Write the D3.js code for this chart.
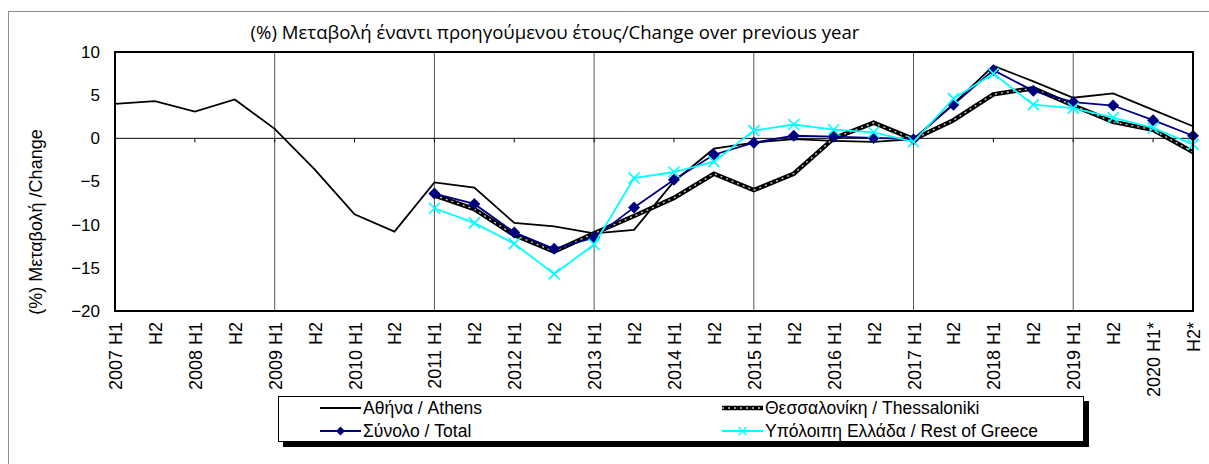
<!DOCTYPE html>
<html lang="el">
<head>
<meta charset="UTF-8">
<title>Μεταβολή έναντι προηγούμενου έτους</title>
<script src="https://d3js.org/d3.v7.min.js"></script>
<style>
  body { margin: 0; background: #fff; }
  svg text { font-family: "Liberation Sans", Arial, sans-serif; fill: #000; }
  .title { font-family: "Open Sans", "Noto Sans", sans-serif; font-size: 18.6px; }
  .ylab { font-size: 18px; }
  .yaxis text { font-size: 17px; }
  .xaxis text { font-size: 18px; }
  .legend text { font-size: 17.5px; }
</style>
</head>
<body>
<div id="chart"></div>
<script>
// half-year periods, tick labels as printed
const periods = ["2007 H1", "H2", "2008 H1", "H2", "2009 H1", "H2", "2010 H1", "H2",
  "2011 H1", "H2", "2012 H1", "H2", "2013 H1", "H2", "2014 H1", "H2",
  "2015 H1", "H2", "2016 H1", "H2", "2017 H1", "H2", "2018 H1", "H2",
  "2019 H1", "H2", "2020 H1*", "H2*"];

const athens = [4.0, 4.3, 3.1, 4.5, 1.1, -3.6, -8.8, -10.8,
  -5.1, -5.7, -9.8, -10.2, -11.0, -10.6, -5.0, -1.2,
  -0.5, -0.1, -0.3, -0.4, -0.1, 4.0, 8.4, 6.6,
  4.7, 5.2, 3.3, 1.4];
const thessaloniki = [null, null, null, null, null, null, null, null,
  -6.6, -8.2, -11.2, -13.1, -11.0, -9.0, -6.9, -4.1,
  -6.0, -4.1, 0.0, 1.8, -0.1, 2.1, 5.1, 5.8,
  3.8, 1.9, 1.0, -1.6];
const total = [null, null, null, null, null, null, null, null,
  -6.4, -7.6, -10.9, -12.8, -11.5, -8.0, -4.8, -1.9,
  -0.5, 0.3, 0.2, 0.05, -0.1, 3.9, 7.9, 5.5,
  4.2, 3.8, 2.1, 0.3];
const restOfGreece = [null, null, null, null, null, null, null, null,
  -8.1, -9.8, -12.2, -15.7, -12.3, -4.6, -3.9, -2.7,
  0.9, 1.6, 1.0, 0.7, -0.4, 4.6, 7.5, 3.9,
  3.5, 2.4, 1.2, -0.7];

const yTicks = [10, 5, 0, -5, -10, -15, -20];

const series = [
  {name: "Αθήνα / Athens", values: athens, type: "athens"},
  {name: "Θεσσαλονίκη / Thessaloniki", values: thessaloniki, type: "thess"},
  {name: "Σύνολο / Total", values: total, type: "total"},
  {name: "Υπόλοιπη Ελλάδα / Rest of Greece", values: restOfGreece, type: "rest"}
];

const width = 1209, height = 464;
const plot = {left: 115, right: 1193, top: 52, bottom: 311};

const svg = d3.select("#chart").append("svg")
    .attr("width", width)
    .attr("height", height);

// outer chart frame
svg.append("rect")
    .attr("x", 8.5).attr("y", 11.5)
    .attr("width", 1300).attr("height", 500)
    .attr("fill", "none")
    .attr("stroke", "#8c8c8c");

const x = d3.scalePoint()
    .domain(d3.range(periods.length))
    .range([plot.left, plot.right]);

const y = d3.scaleLinear()
    .domain([-20, 10])
    .range([plot.bottom, plot.top]);

// vertical gridlines every two years
svg.append("g")
  .selectAll("line")
  .data(x.domain().filter(i => i % 4 === 0 && i > 0))
  .enter().append("line")
    .attr("x1", d => x(d)).attr("x2", d => x(d))
    .attr("y1", plot.top).attr("y2", plot.bottom)
    .attr("stroke", "#555")
    .attr("stroke-width", 1);

// zero line with small ticks
svg.append("line")
    .attr("x1", plot.left).attr("x2", plot.right)
    .attr("y1", y(0)).attr("y2", y(0))
    .attr("stroke", "#000");

svg.append("g")
  .selectAll("line")
  .data(x.domain().filter(i => i % 2 === 0))
  .enter().append("line")
    .attr("x1", d => x(d)).attr("x2", d => x(d))
    .attr("y1", y(0)).attr("y2", y(0) + 4)
    .attr("stroke", "#000");

// axes
const yAxis = svg.append("g")
    .attr("class", "yaxis")
    .attr("transform", `translate(${plot.left},0)`)
    .call(d3.axisLeft(y).tickValues(yTicks).tickSize(0).tickPadding(15));
yAxis.select(".domain").remove();

const xAxis = svg.append("g")
    .attr("class", "xaxis")
    .attr("transform", `translate(0,${plot.bottom})`)
    .call(d3.axisBottom(x).tickFormat(i => periods[i]).tickSize(0));
xAxis.select(".domain").remove();
xAxis.selectAll("text")
    .attr("transform", "rotate(-90)")
    .attr("x", -11)
    .attr("y", 0)
    .attr("dy", "0.36em")
    .attr("text-anchor", "end");
svg.selectAll(".yaxis, .xaxis").attr("font-family", null).attr("font-size", null);

// lines
const line = d3.line()
    .defined(d => d.v != null)
    .x(d => x(d.i))
    .y(d => y(d.v));

const pts = s => s.values.map((v, i) => ({i: i, v: v}));

const drawSeries = (g, s) => {
  const data = pts(s);
  if (s.type === "athens") {
    g.append("path").datum(data).attr("d", line)
        .attr("fill", "none").attr("stroke", "#000").attr("stroke-width", 1.8);
  } else if (s.type === "thess") {
    g.append("path").datum(data).attr("d", line)
        .attr("fill", "none").attr("stroke", "#000").attr("stroke-width", 4.5);
    g.append("path").datum(data).attr("d", line)
        .attr("fill", "none").attr("stroke", "#c8c8c8").attr("stroke-width", 1.4)
        .attr("stroke-dasharray", "2,4");
  } else if (s.type === "total") {
    g.append("path").datum(data).attr("d", line)
        .attr("fill", "none").attr("stroke", "#000080").attr("stroke-width", 1.8);
    g.selectAll("path.mk").data(data.filter(d => d.v != null))
      .enter().append("path").attr("class", "mk")
        .attr("d", "M0,-6L6,0L0,6L-6,0Z")
        .attr("transform", d => `translate(${x(d.i)},${y(d.v)})`)
        .attr("fill", "#000080");
  } else {
    g.append("path").datum(data).attr("d", line)
        .attr("fill", "none").attr("stroke", "#00ffff").attr("stroke-width", 1.8);
    g.selectAll("path.mk").data(data.filter(d => d.v != null))
      .enter().append("path").attr("class", "mk")
        .attr("d", "M-5.5,-5.5L5.5,5.5M-5.5,5.5L5.5,-5.5")
        .attr("transform", d => `translate(${x(d.i)},${y(d.v)})`)
        .attr("stroke", "#00ffff").attr("stroke-width", 1.6);
  }
};

series.forEach(s => drawSeries(svg.append("g"), s));

// plot border
svg.append("rect")
    .attr("x", plot.left).attr("y", plot.top)
    .attr("width", plot.right - plot.left)
    .attr("height", plot.bottom - plot.top)
    .attr("fill", "none")
    .attr("stroke", "#000")
    .attr("stroke-width", 2);

// title and y label
svg.append("text")
    .attr("class", "title")
    .attr("x", 555).attr("y", 39)
    .attr("text-anchor", "middle")
    .text("(%) Μεταβολή έναντι προηγούμενου έτους/Change over previous year");

svg.append("text")
    .attr("class", "ylab")
    .attr("transform", "translate(36,222) rotate(-90)")
    .attr("text-anchor", "middle")
    .attr("dy", "0.35em")
    .text("(%) Μεταβολή /Change");

// legend
const legend = svg.append("g").attr("class", "legend");
legend.append("rect")
    .attr("x", 283).attr("y", 401).attr("width", 806).attr("height", 46)
    .attr("fill", "#000");
legend.append("rect")
    .attr("x", 278.5).attr("y", 396.5).attr("width", 805).attr("height", 45)
    .attr("fill", "#fff").attr("stroke", "#000").attr("stroke-width", 1);

const legPos = [[320, 408], [722, 408], [320, 431], [722, 431]];
series.forEach((s, k) => {
  const [lx, ly] = legPos[k];
  const g = legend.append("g").attr("transform", `translate(${lx},${ly})`);
  if (s.type === "athens") {
    g.append("line").attr("x1", 0).attr("x2", 41).attr("stroke", "#000").attr("stroke-width", 1.8);
  } else if (s.type === "thess") {
    g.append("line").attr("x1", 0).attr("x2", 41).attr("stroke", "#000").attr("stroke-width", 4.5);
    g.append("line").attr("x1", 0).attr("x2", 41).attr("stroke", "#c8c8c8")
        .attr("stroke-width", 1.4).attr("stroke-dasharray", "2,4");
  } else if (s.type === "total") {
    g.append("line").attr("x1", 0).attr("x2", 41).attr("stroke", "#000080").attr("stroke-width", 1.8);
    g.append("path").attr("d", "M20.5,-4.5L25,0L20.5,4.5L16,0Z").attr("fill", "#000080");
  } else {
    g.append("line").attr("x1", 0).attr("x2", 41).attr("stroke", "#00ffff").attr("stroke-width", 1.8);
    g.append("path").attr("d", "M16.5,-4L24.5,4M16.5,4L24.5,-4")
        .attr("stroke", "#00ffff").attr("stroke-width", 1.4);
  }
  g.append("text")
      .attr("x", 43).attr("y", 0).attr("dy", "0.35em")
      .text(s.name);
});
</script>
</body>
</html>
